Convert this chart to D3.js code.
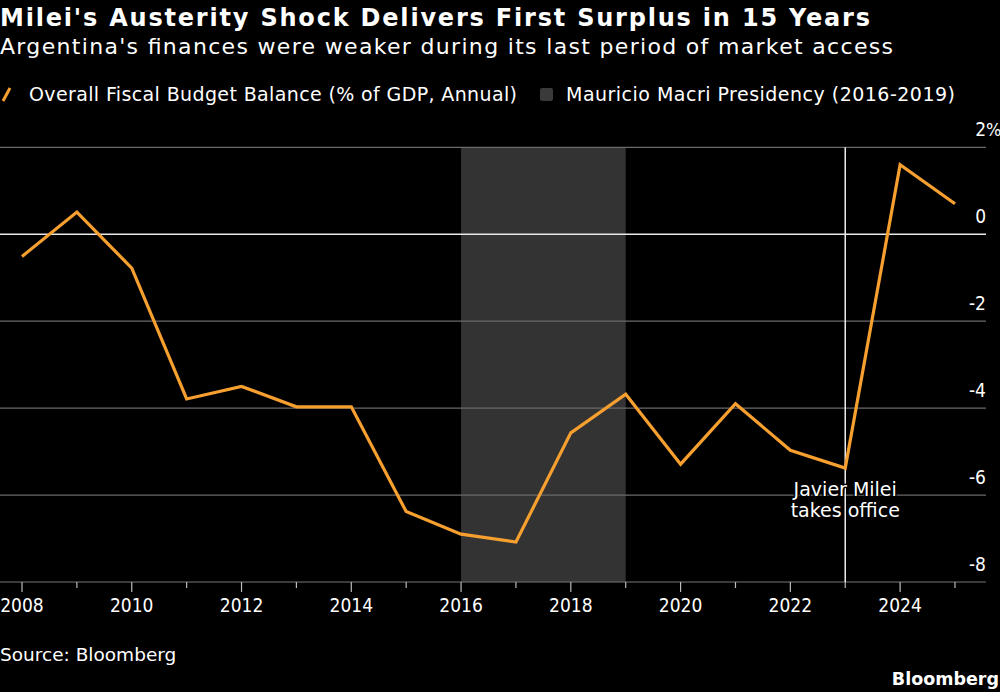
<!DOCTYPE html>
<html lang="en">

<head>
  <meta charset="UTF-8">
  <title>Milei's Austerity Shock</title>
  <script src="https://cdn.jsdelivr.net/npm/d3@7"></script>
  <style>
    body { margin: 0; background: #000; }
    text { font-family: "DejaVu Sans", sans-serif; fill: #fff; }
    .cond { font-family: "DejaVu Sans Condensed", "DejaVu Sans", sans-serif; }
  </style>
</head>

<body>
  <svg width=1000 height=692 id="chart"></svg>
  <script>
    // data
    const years = [2008, 2009, 2010, 2011, 2012, 2013, 2014, 2015, 2016, 2017, 2018, 2019, 2020, 2021, 2022, 2023, 2024, 2025];
    const balance = [-0.51, 0.51, -0.78, -3.79, -3.5, -3.97, -3.97, -6.38, -6.9, -7.08, -4.57, -3.68, -5.29, -3.9, -4.97, -5.38, 1.6, 0.7];
    const yTicks = [2, 0, -2, -4, -6, -8];
    const xTickYears = [2008, 2010, 2012, 2014, 2016, 2018, 2020, 2022, 2024];
    const macri = [2016, 2019];
    const mileiYear = 2023;

    const svg = d3.select('#chart');
    svg.append('rect').attr('width', 1000).attr('height', 692).attr('fill', '#000');

    const x = d3.scaleLinear().domain([2008, 2025]).range([22, 955]);
    const y = d3.scaleLinear().domain([-8, 2]).range([582, 147.3]);
    const gridRight = 986;

    // titles
    svg.append('text').attr('x', 0).attr('y', 26)
      .attr('font-size', '24px').attr('font-weight', 'bold')
      .attr('textLength', 870).attr('lengthAdjust', 'spacing')
      .text("Milei's Austerity Shock Delivers First Surplus in 15 Years");
    svg.append('text').attr('x', 0).attr('y', 54)
      .attr('font-size', '22px')
      .attr('textLength', 893).attr('lengthAdjust', 'spacing')
      .text("Argentina's finances were weaker during its last period of market access");

    // legend
    svg.append('line')
      .attr('x1', 3).attr('y1', 101).attr('x2', 10).attr('y2', 88)
      .attr('stroke', '#f7a030').attr('stroke-width', 3);
    svg.append('text').attr('x', 29).attr('y', 101).attr('font-size', '19px')
      .attr('textLength', 488).attr('lengthAdjust', 'spacing')
      .text('Overall Fiscal Budget Balance (% of GDP, Annual)');
    svg.append('rect').attr('x', 540).attr('y', 88).attr('width', 13).attr('height', 13)
      .attr('rx', 2).attr('fill', '#3a3a3a');
    svg.append('text').attr('x', 566).attr('y', 101).attr('font-size', '19px')
      .attr('textLength', 389).attr('lengthAdjust', 'spacing')
      .text('Mauricio Macri Presidency (2016-2019)');

    // Macri shading
    svg.append('rect')
      .attr('x', x(macri[0])).attr('y', y(2))
      .attr('width', x(macri[1]) - x(macri[0]))
      .attr('height', y(-8) - y(2))
      .attr('fill', '#333');

    // gridlines
    svg.selectAll('.grid')
      .data(yTicks.filter(d => d !== 0 && d !== -8))
      .enter()
      .append('line')
      .attr('class', 'grid')
      .attr('x1', 0).attr('x2', gridRight)
      .attr('y1', d => y(d)).attr('y2', d => y(d))
      .attr('stroke', '#6a6a6a').attr('stroke-width', 1.2);

    // y labels
    svg.selectAll('.ylab')
      .data(yTicks)
      .enter()
      .append('text')
      .attr('class', 'ylab cond')
      .attr('x', gridRight)
      .attr('y', d => y(d) - 11)
      .attr('text-anchor', 'end')
      .attr('font-size', '19px')
      .text(d => d);
    svg.append('text').attr('class', 'cond').attr('x', gridRight).attr('y', y(2) - 11)
      .attr('font-size', '18px').text('%');

    // x axis
    const xAxis = d3.axisBottom(x)
      .tickValues(years)
      .tickSize(0)
      .tickFormat('');
    const gx = svg.append('g').attr('transform', `translate(0, ${y(-8)})`).call(xAxis);
    gx.select('.domain').remove();
    svg.append('line')
      .attr('x1', 0).attr('x2', gridRight)
      .attr('y1', y(-8)).attr('y2', y(-8))
      .attr('stroke', '#777').attr('stroke-width', 1.2);
    svg.selectAll('.xtick')
      .data(years)
      .enter()
      .append('line')
      .attr('class', 'xtick')
      .attr('x1', d => x(d)).attr('x2', d => x(d))
      .attr('y1', y(-8))
      .attr('y2', d => y(-8) + (xTickYears.includes(d) ? 10 : 6))
      .attr('stroke', '#bbb').attr('stroke-width', 1.2);
    svg.selectAll('.xlab')
      .data(xTickYears)
      .enter()
      .append('text')
      .attr('class', 'xlab cond')
      .attr('x', d => x(d))
      .attr('y', 612)
      .attr('text-anchor', 'middle')
      .attr('font-size', '19px')
      .text(d => d);

    // zero line
    svg.append('line')
      .attr('x1', 0).attr('x2', gridRight)
      .attr('y1', y(0)).attr('y2', y(0))
      .attr('stroke', '#e8e8e8').attr('stroke-width', 1.6);

    // Milei line
    svg.append('line')
      .attr('x1', x(mileiYear)).attr('x2', x(mileiYear))
      .attr('y1', y(2)).attr('y2', y(-8))
      .attr('stroke', '#eee').attr('stroke-width', 1.5);

    // data line
    const line = d3.line()
      .x((d, i) => x(years[i]))
      .y(d => y(d));
    svg.append('path')
      .datum(balance)
      .attr('d', line)
      .attr('fill', 'none')
      .attr('stroke', '#f7a030')
      .attr('stroke-width', 3.2)
      .attr('stroke-linejoin', 'miter');

    // annotation
    const ann = svg.append('text')
      .attr('x', x(mileiYear))
      .attr('text-anchor', 'middle')
      .attr('font-size', '19px')
      .attr('stroke', '#000').attr('stroke-width', 3)
      .attr('paint-order', 'stroke');
    ann.append('tspan').attr('x', x(mileiYear)).attr('y', 496).text('Javier Milei');
    ann.append('tspan').attr('x', x(mileiYear)).attr('y', 517).text('takes office');

    // footer
    svg.append('text').attr('x', 0).attr('y', 661).attr('font-size', '18.5px')
      .text('Source: Bloomberg');
    svg.append('text').attr('x', 999).attr('y', 685).attr('text-anchor', 'end')
      .attr('font-size', '17.5px').attr('font-weight', 'bold')
      .text('Bloomberg');
  </script>
</body>

</html>
